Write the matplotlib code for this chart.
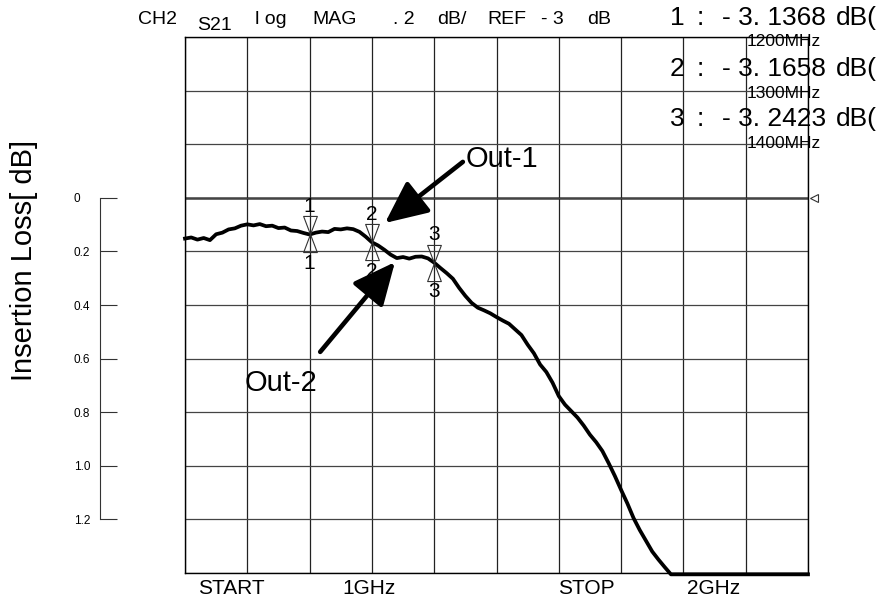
import matplotlib
matplotlib.use('Agg')
import matplotlib.pyplot as plt
from matplotlib.path import Path
import numpy as np

plt.rcParams['font.family'] = ['Liberation Sans', 'DejaVu Sans']

# trace (MHz, insertion loss in dB)
freq = [1000, 1010, 1020, 1030, 1040, 1050, 1060, 1070, 1080, 1090,
        1100, 1110, 1120, 1130, 1140, 1150, 1160, 1170, 1180, 1190,
        1200, 1210, 1220, 1230, 1240, 1250, 1260, 1270, 1280, 1290,
        1300, 1310, 1320, 1330, 1340, 1350, 1360, 1370, 1380, 1390,
        1400, 1410, 1420, 1430, 1440, 1450, 1460, 1470, 1480, 1490,
        1500, 1510, 1520, 1530, 1540, 1550, 1560, 1570, 1580, 1590,
        1600, 1610, 1620, 1630, 1640, 1650, 1660, 1670, 1680, 1690,
        1700, 1710, 1720, 1730, 1740, 1750, 1760, 1770, 1780, 1800,
        1900, 2000]
loss = [0.152, 0.148, 0.156, 0.150, 0.158, 0.136, 0.130, 0.118, 0.114, 0.104,
        0.099, 0.103, 0.098, 0.106, 0.104, 0.113, 0.111, 0.122, 0.124, 0.131,
        0.137, 0.130, 0.126, 0.128, 0.116, 0.118, 0.114, 0.117, 0.127, 0.145,
        0.166, 0.178, 0.194, 0.212, 0.225, 0.221, 0.227, 0.220, 0.219, 0.226,
        0.242, 0.262, 0.281, 0.302, 0.336, 0.366, 0.392, 0.410, 0.420, 0.431,
        0.445, 0.458, 0.470, 0.491, 0.512, 0.548, 0.580, 0.622, 0.650, 0.690,
        0.740, 0.772, 0.796, 0.820, 0.850, 0.884, 0.912, 0.945, 0.990, 1.038,
        1.090, 1.140, 1.195, 1.240, 1.280, 1.320, 1.350, 1.378, 1.405, 1.405,
        1.405, 1.405]

ref_level = -3.0
marker_no = [1, 2, 3]
marker_freq = [1200, 1300, 1400]
marker_val = [-3.1368, -3.1658, -3.2423]

x_label_pos = [1075, 1295, 1644, 1849]
x_labels = ['START', '1GHz', 'STOP', '2GHz']

left_ticks = [0, 0.2, 0.4, 0.6, 0.8, 1.0, 1.2]
left_labels = ['0', '0.2', '0.4', '0.6', '0.8', '1.0', '1.2']

header = [('CH2', 138, 20), ('S21', 197, 25), ('l og', 255, 20), ('MAG', 312, 20),
          ('. 2', 393, 20), ('dB/', 437, 20), ('REF', 487, 20), ('- 3', 541, 20),
          ('dB', 587, 20)]

W, H = 877, 596
def fx(px):
    return px / W
def fy(py):
    return 1 - py / H

fig = plt.figure(figsize=(W / 100, H / 100), dpi=100)
ax = fig.add_axes([fx(185), fy(573), fx(808) - fx(185), fy(37) - fy(573)])
ax.set_xlim(1000, 2000)
ax.set_ylim(1.4, -0.6)

# screen grid, 10 x 10 divisions
ax.set_xticks(np.arange(1000, 2001, 100), minor=True)
ax.set_yticks(np.arange(-0.6, 1.41, 0.2))
ax.grid(True, which='minor', axis='x', color='#222222', lw=0.9)
ax.grid(True, which='major', axis='y', color='#444444', lw=0.9)
ax.axhline(0, color='#444444', lw=1.8, zorder=1)
ax.set_xticks(x_label_pos, x_labels)
ax.tick_params(which='both', length=0)
ax.tick_params(axis='y', labelleft=False)
ax.tick_params(axis='x', labelsize=15, pad=4)
for s in ax.spines.values():
    s.set_color('black')
    s.set_linewidth(1.0)

# trace
ax.plot(freq, loss, color='black', lw=2.7, solid_joinstyle='round',
        clip_on=False, zorder=3)

# markers (hourglass)
verts = [(-0.38, 1), (0.38, 1), (0, 0), (-0.38, 1),
         (-0.38, -1), (0.38, -1), (0, 0), (-0.38, -1)]
codes = [Path.MOVETO, Path.LINETO, Path.LINETO, Path.CLOSEPOLY,
         Path.MOVETO, Path.LINETO, Path.LINETO, Path.CLOSEPOLY]
hourglass = Path(verts, codes)
marker_loss = [ref_level - v for v in marker_val]
ax.plot(marker_freq, marker_loss, ls='none', marker=hourglass, ms=26,
        mfc='none', mec='#333333', mew=0.8, zorder=4)
for n, f, l in zip(marker_no, marker_freq, marker_loss):
    ax.annotate(str(n), (f, l), xytext=(0, 20), textcoords='offset points',
                ha='center', va='center', fontsize=15)
    ax.annotate(str(n), (f, l), xytext=(0, -21), textcoords='offset points',
                ha='center', va='center', fontsize=15)

# reference level pointer
ax.plot([2009], [0], marker='<', ms=6, mfc='white', mec='#333333', mew=0.8,
        clip_on=False)

# arrows
arrow = dict(arrowstyle='-|>,head_length=1.3,head_width=0.6', lw=3.3,
             color='black', mutation_scale=20, shrinkA=0, shrinkB=0)
ax.annotate('', xy=(1321, 0.094), xytext=(1446, -0.134), arrowprops=arrow)
ax.text(1451, -0.145, 'Out-1', fontsize=21, ha='left', va='center')
ax.annotate('', xy=(1337, 0.24), xytext=(1217, 0.575), arrowprops=arrow)
ax.text(1154, 0.691, 'Out-2', fontsize=21, ha='center', va='center')

# separate insertion loss scale on the left
lax = fig.add_axes([fx(100), fy(573), 0.03, fy(37) - fy(573)])
lax.set_ylim(1.4, -0.6)
lax.set_yticks(left_ticks, left_labels)
lax.set_xticks([])
for k in ['top', 'right', 'bottom']:
    lax.spines[k].set_visible(False)
lax.spines['left'].set_bounds(0, 1.2)
lax.spines['left'].set_color('#333333')
lax.spines['left'].set_linewidth(0.8)
lax.patch.set_alpha(0)
lax.tick_params(axis='y', direction='in', length=12, width=0.8,
                color='#333333', pad=19, labelsize=8.5)
for t in lax.get_yticklabels():
    t.set_ha('left')

fig.text(fx(24), fy(260), 'Insertion Loss[ dB]', rotation=90, ha='center',
         va='center', fontsize=21)

# header and marker readouts
for txt, x, y in header:
    fig.text(fx(x), fy(y), txt, fontsize=14, ha='left', va='center')
rows_y = [18, 69, 119]
for n, f, v, y in zip(marker_no, marker_freq, marker_val, rows_y):
    s = f"{v:.4f}"
    fig.text(fx(670), fy(y), str(n), fontsize=19, ha='left', va='center')
    fig.text(fx(697), fy(y), ':', fontsize=19, ha='left', va='center')
    fig.text(fx(722), fy(y), '- ' + s[1:3] + ' ' + s[3:], fontsize=19,
             ha='left', va='center')
    fig.text(fx(836), fy(y), 'dB(', fontsize=19, ha='left', va='center')
    fig.text(fx(747), fy(y + 24), f"{f}MHz", fontsize=12.5, ha='left',
             va='center')

fig.savefig('out.png', dpi=100)
